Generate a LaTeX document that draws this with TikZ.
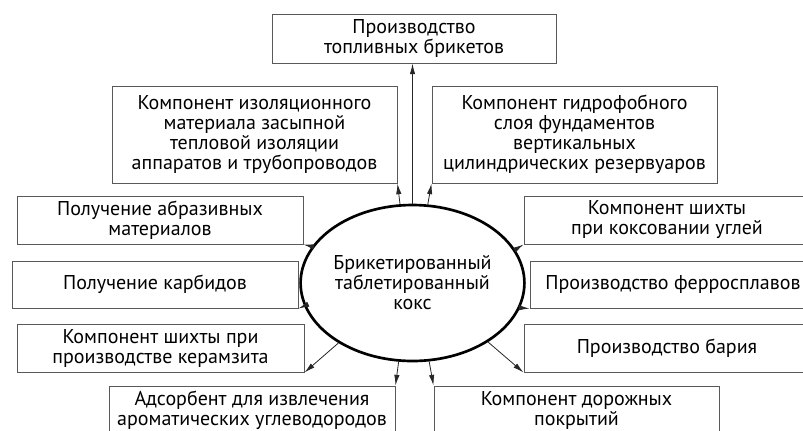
\documentclass[tikz,border=0pt]{standalone}
\usepackage{fontspec}
\setmainfont{PT Sans}
\usetikzlibrary{shapes.geometric,arrows.meta}
\tikzset{
  box/.style={draw=black!65, line width=0.75pt, rectangle, inner sep=0pt, align=center,
    font=\fontsize{15}{15}\selectfont},
  core/.style={draw=black, line width=2pt, ellipse, inner sep=0pt, align=center,
    minimum width=137.25pt, minimum height=117pt, font=\fontsize{15}{15}\selectfont},
  arr/.style={draw=black!85, line width=0.6pt, -{Latex[length=8pt,width=4pt]}}
}
\begin{document}
\begin{tikzpicture}[x=0.75pt,y=-0.75pt]
\useasboundingbox (0,0) rectangle (803,430);
\clip (0,0) rectangle (803,430);
\node[core] (el) at (412.5,283) {Брикетированный\\таблетированный\\кокс};
\node[box, minimum width=213pt, minimum height=36.75pt] (top) at (414,38.5) {Производство\\топливных брикетов};
\node[box, minimum width=213.75pt, minimum height=72.75pt] (ins) at (254.5,134.5) {Компонент изоляционного\\материала засыпной\\тепловой изоляции\\аппаратов и трубопроводов};
\node[box, minimum width=213.75pt, minimum height=72.75pt] (hyd) at (574.5,134.5) {Компонент гидрофобного\\слоя фундаментов\\вертикальных\\цилиндрических резервуаров};
\node[box, minimum width=214.5pt, minimum height=36pt] (abr) at (160,220) {Получение абразивных\\материалов};
\node[box, minimum width=214.5pt, minimum height=36pt] (cok) at (667,220) {Компонент шихты\\при коксовании углей};
\node[box, minimum width=214.5pt, minimum height=35.25pt] (carb) at (155,284.5) {Получение карбидов};
\node[box, minimum width=214.5pt, minimum height=35.25pt] (fer) at (673,284.5) {Производство ферросплавов};
\node[box, minimum width=215.25pt, minimum height=36pt] (cer) at (160.5,348) {Компонент шихты при\\производстве керамзита};
\node[box, minimum width=214.5pt, minimum height=36pt] (bar) at (667,348) {Производство бария};
\node[box, minimum width=214.5pt, minimum height=36.75pt] (ads) at (252,410.5) {Адсорбент для извлечения\\ароматических углеводородов};
\node[box, minimum width=213.75pt, minimum height=36.75pt] (road) at (576.5,410.5) {Компонент дорожных\\покрытий};
\draw[arr] (el.north) -- (el.north |- top.south);
\draw[arr] (el.99) -- (ins.south east);
\draw[arr] (el.79) -- (hyd.south west);
\draw[arr] (el.160.5) -- (abr.south east);
\draw[arr] (el.192.6) -- (carb.south east);
\draw[arr] (el.219.6) -- (cer.south east);
\draw[arr] (el.260.2) -- (ads.north east);
\draw[arr] (el.282.1) -- (road.north west);
\draw[arr] (el.322) -- (bar.south west);
\draw[arr] (el.347.5) -- (fer.south west);
\draw[arr] (el.18.9) -- (cok.south west);
\end{tikzpicture}
\end{document}
